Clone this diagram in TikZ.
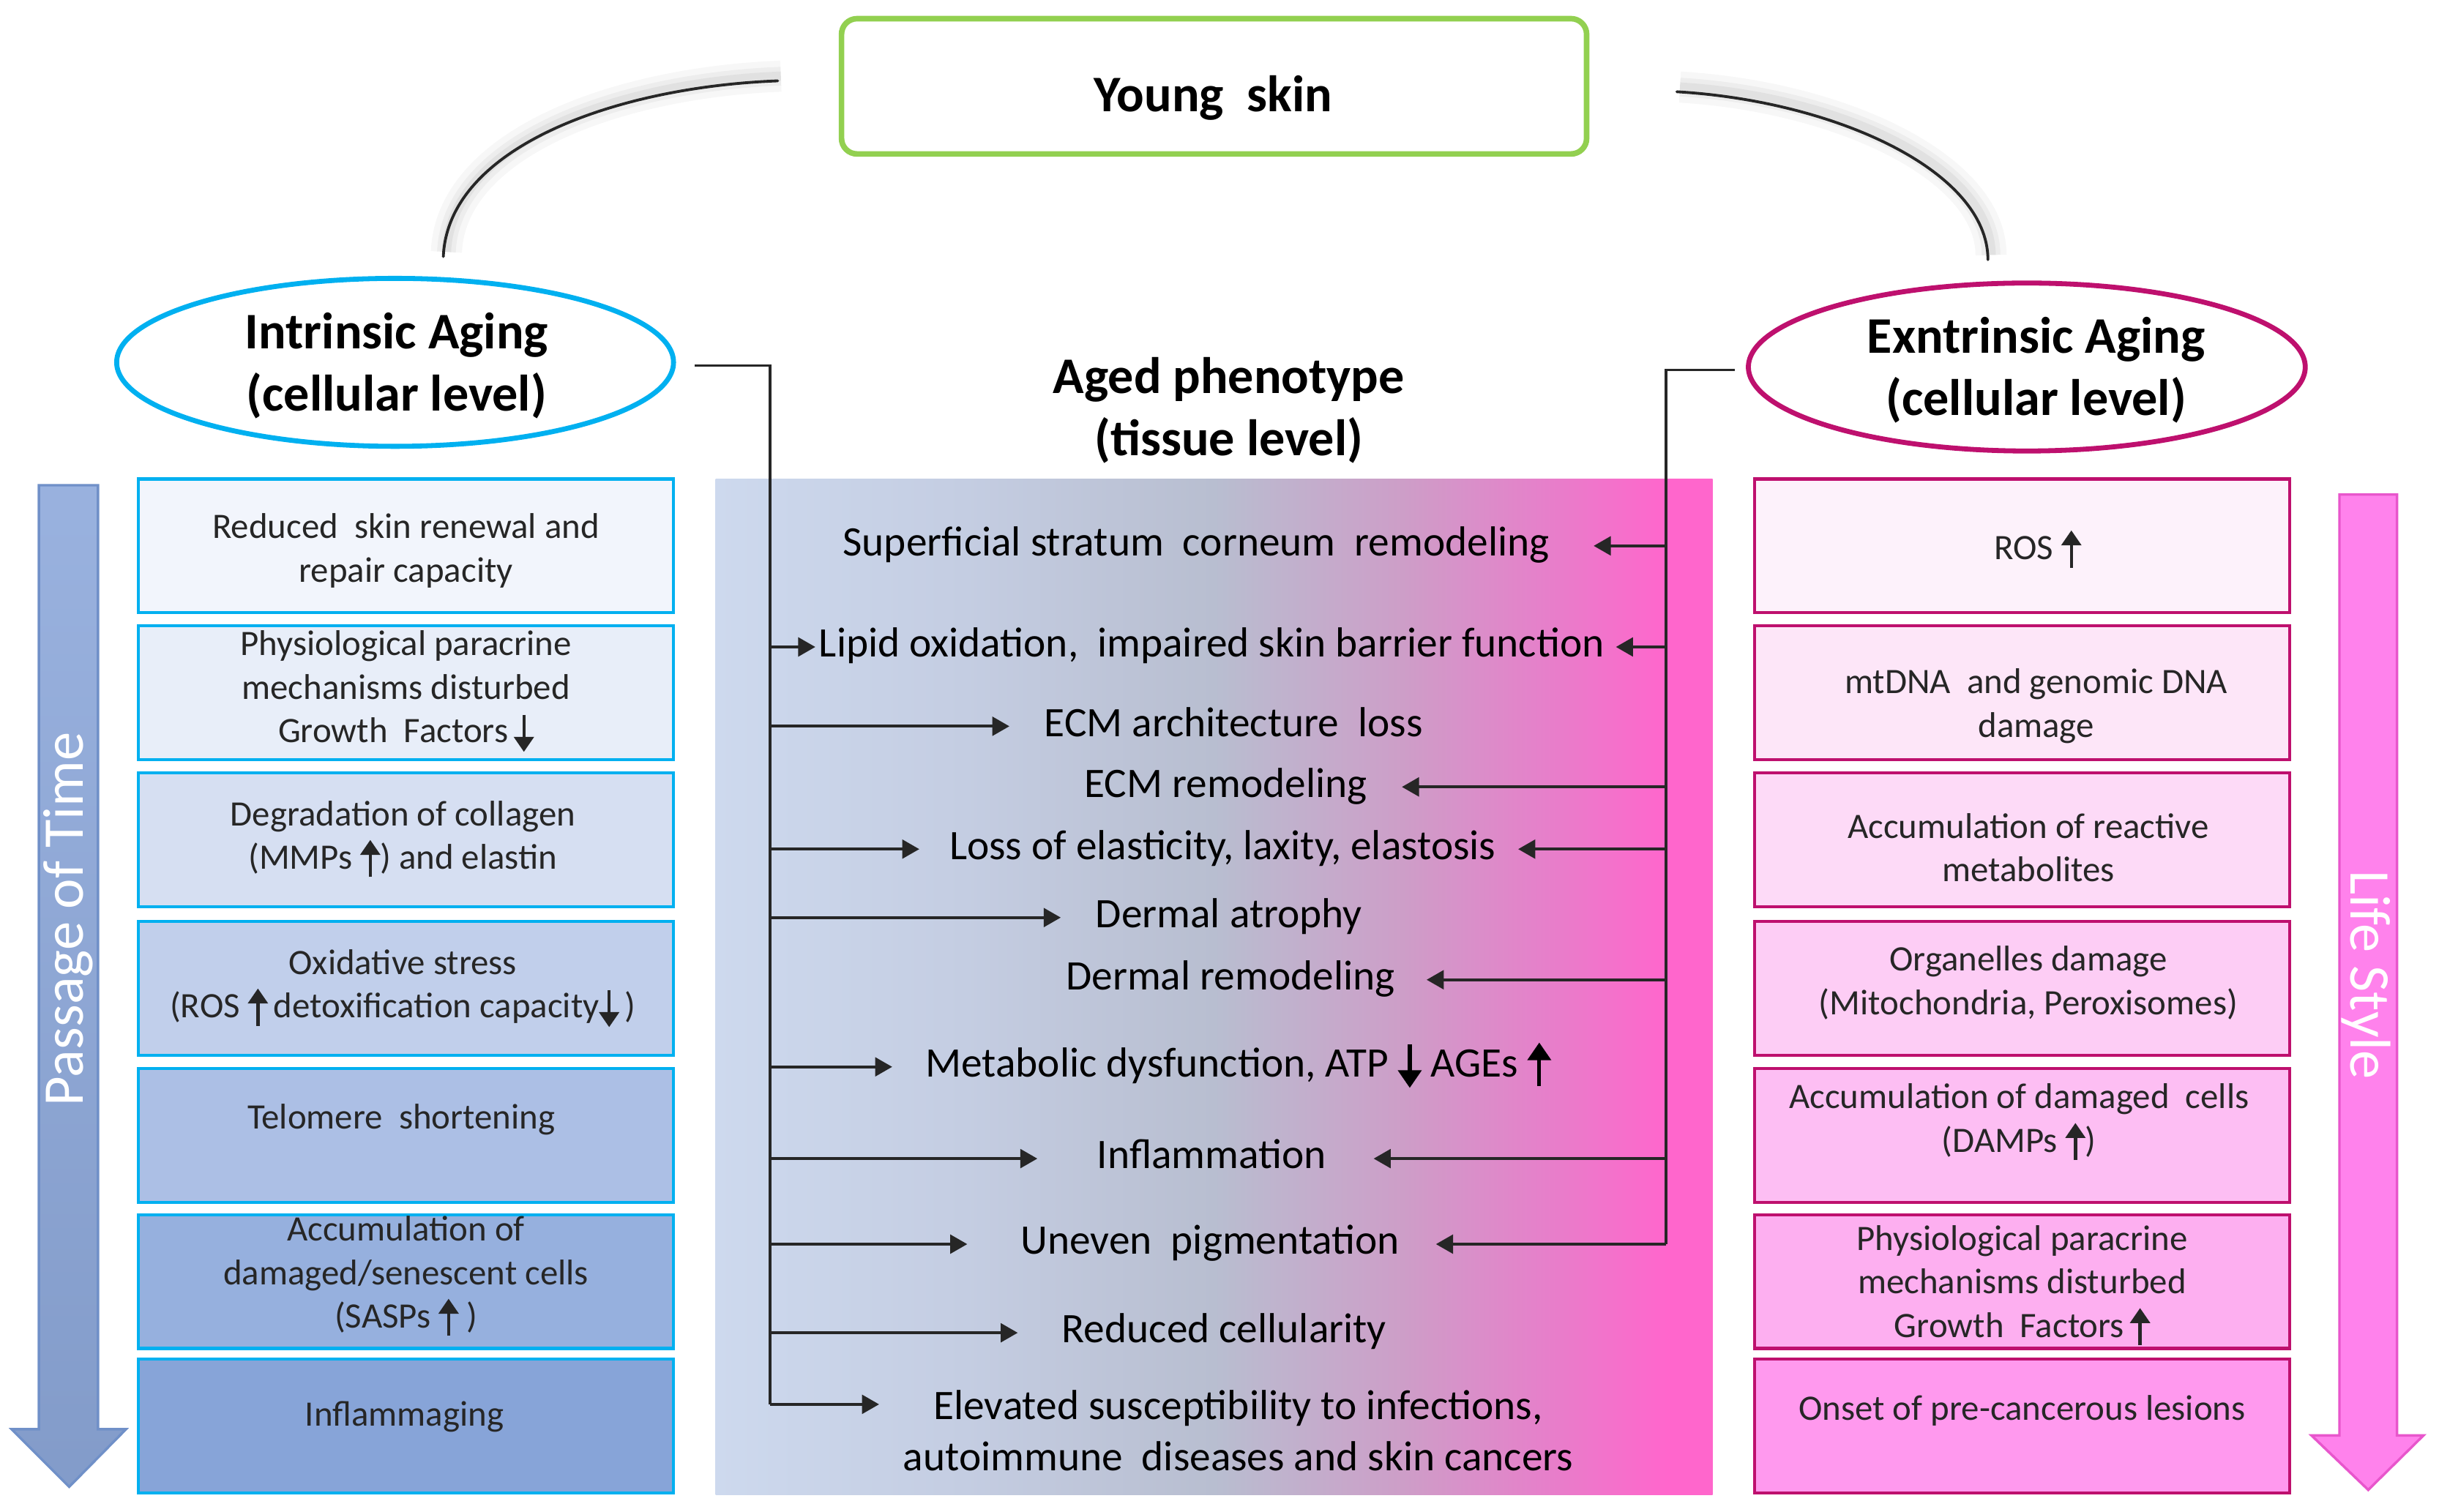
\documentclass[tikz,border=0pt]{standalone}
\usepackage{fontspec}
\setmainfont{Carlito}
\usetikzlibrary{arrows.meta,calc,shapes.geometric}

\definecolor{intblue}{RGB}{0,176,240}
\definecolor{extred}{RGB}{190,16,110}
\definecolor{younggreen}{RGB}{146,208,80}
\definecolor{lb1}{RGB}{242,245,252}
\definecolor{lb2}{RGB}{232,238,249}
\definecolor{lb3}{RGB}{214,223,242}
\definecolor{lb4}{RGB}{193,207,235}
\definecolor{lb5}{RGB}{172,191,229}
\definecolor{lb6}{RGB}{150,176,222}
\definecolor{lb7}{RGB}{135,164,216}
\definecolor{rb1}{RGB}{253,242,251}
\definecolor{rb2}{RGB}{253,230,248}
\definecolor{rb3}{RGB}{253,218,247}
\definecolor{rb4}{RGB}{253,205,245}
\definecolor{rb5}{RGB}{253,190,243}
\definecolor{rb6}{RGB}{253,175,240}
\definecolor{rb7}{RGB}{255,153,238}
\definecolor{timeblue}{RGB}{142,169,219}
\definecolor{timeedge}{RGB}{112,144,200}
\definecolor{lifepink}{RGB}{255,130,236}
\definecolor{lifeedge}{RGB}{232,86,204}

\pgfdeclarehorizontalshading{agedshade}{100bp}{rgb(0bp)=(0.804,0.851,0.933);
  rgb(25bp)=(0.804,0.851,0.933); rgb(37.5bp)=(0.769,0.804,0.886);
  rgb(50bp)=(0.722,0.745,0.816); rgb(59.4bp)=(0.804,0.620,0.784);
  rgb(67.2bp)=(0.910,0.490,0.792); rgb(72.7bp)=(1,0.4,0.8); rgb(100bp)=(1,0.4,0.8)}

\newcommand{\arup}{\tikz[baseline=0pt]\draw[line width=0.09em,-{Triangle[length=0.42em,width=0.55em]}] (0,-0.22em) -- (0,0.82em);}
\newcommand{\ardown}{\tikz[baseline=0pt]\draw[line width=0.09em,-{Triangle[length=0.42em,width=0.55em]}] (0,0.78em) -- (0,-0.26em);}

\tikzset{
  lbox/.style={draw=intblue,line width=1pt,minimum width=172pt,minimum height=43pt,inner sep=0pt},
  rbox/.style={draw=extred,line width=1pt,minimum width=172pt,minimum height=43pt,inner sep=0pt},
  boxtext/.style={font=\fontsize{11.5}{14}\selectfont,align=center,text=black!85,inner sep=0pt},
  phenbase/.style={font=\fontsize{13.5}{16.5}\selectfont,align=center,inner sep=0pt},
  phen/.style={phenbase,text height=9.2pt,text depth=2.7pt},
  title/.style={font=\fontsize{16.5}{20}\selectfont\bfseries,align=center,inner sep=0pt},
  youngbox/.style={draw=younggreen,line width=1.8pt,rounded corners=5pt,minimum width=239.5pt,minimum height=43.5pt},
  aging/.style={ellipse,line width=1.6pt,minimum width=179pt,minimum height=54pt,inner sep=0pt},
  link/.style={line width=1pt,black!85,-{Triangle[length=5.5pt,width=6pt]}},
  bracket/.style={line width=0.8pt,black!85},
  bigarrow/.style={line width=0.8pt,line join=miter},
  arrowtext/.style={font=\fontsize{18.5}{20}\selectfont,text=white,inner sep=0pt},
  bow/.style={line width=0.9pt,black!85,line cap=round,
    preaction={draw=black,opacity=0.03,line width=10pt,transform canvas={shift={(1pt,1.5pt)}}},
    preaction={draw=black,opacity=0.04,line width=6pt,transform canvas={shift={(1pt,1.5pt)}}},
    preaction={draw=black,opacity=0.05,line width=3pt,transform canvas={shift={(1pt,1.5pt)}}}},
}

\begin{document}
\begin{tikzpicture}[x=0.5pt,y=-0.5pt]
\useasboundingbox (0,0) rectangle (1568,972);

% top of the scheme
\node[youngbox] (young) at (780.5,55.5) {};
\node[title] (youngt) at (780,63) {Young\ \ skin};
\coordinate (bowl) at (500,52);
\coordinate (bowr) at (1078,59);
\draw[bow] (bowl) .. controls (395,56) and (288,95) .. (285,165);
\draw[bow] (bowr) .. controls (1180,65) and (1278,110) .. (1278,167);

\node[aging,draw=intblue] (intr) at (254,233) {};
\node[title] (intrt) at (255,235) {Intrinsic Aging\\(cellular level)};
\node[aging,draw=extred] (extr) at (1303,236) {};
\node[title] (extrt) at (1309,238) {Exntrinsic Aging\\(cellular level)};
\node[title] (aged) at (790,264) {Aged phenotype\\(tissue level)};

% side arrows
\draw[bigarrow,draw=timeedge,top color=timeblue!90!white,bottom color=timeblue!92!black]
  (25,312) -- (63,312) -- (63,919) -- (81,919) -- (44.5,956) -- (7.5,919) -- (25,919) -- cycle;
\node[arrowtext,rotate=90] (time) at (44,591) {Passage of Time};
\draw[bigarrow,draw=lifeedge,fill=lifepink]
  (1504,318) -- (1541,318) -- (1541,923) -- (1558,923) -- (1522.5,958) -- (1486,923) -- (1504,923) -- cycle;
\node[arrowtext,rotate=-90] (life) at (1521,627) {Life Style};

% intrinsic boxes
\node[lbox,fill=lb1] (l1) at (261,351) {};
\node[boxtext] (l1t) at (261,354) {Reduced\ \ skin renewal and\\repair capacity};
\node[lbox,fill=lb2] (l2) at (261,445.5) {};
\node[boxtext] (l2t) at (261,445) {Physiological paracrine\\mechanisms disturbed\\Growth\ \ Factors\,\ardown};
\node[lbox,fill=lb3] (l3) at (261,540) {};
\node[boxtext] (l3t) at (259,540) {Degradation of collagen\\(MMPs \arup) and elastin};
\node[lbox,fill=lb4] (l4) at (261,635.5) {};
\node[boxtext] (l4t) at (259,636) {Oxidative stress\\(ROS \arup\,detoxification capacity\ardown\,)};
\node[lbox,fill=lb5] (l5) at (261,730) {};
\node[boxtext] (l5t) at (258,720) {Telomere\ \ shortening};
\node[lbox,fill=lb6] (l6) at (261,824) {};
\node[boxtext] (l6t) at (261,821) {Accumulation of\\damaged/senescent cells\\(SASPs \arup\ )};
\node[lbox,fill=lb7] (l7) at (261,917) {};
\node[boxtext] (l7t) at (260,911) {Inflammaging};

% extrinsic boxes
\node[rbox,fill=rb1] (r1) at (1300,351) {};
\node[boxtext] (r1t) at (1310,353) {ROS \arup};
\node[rbox,fill=rb2] (r2) at (1300,445.5) {};
\node[boxtext] (r2t) at (1309,454) {mtDNA\ \ and genomic DNA\\damage};
\node[rbox,fill=rb3] (r3) at (1300,540) {};
\node[boxtext] (r3t) at (1304,545) {Accumulation of reactive\\metabolites};
\node[rbox,fill=rb4] (r4) at (1300,635.5) {};
\node[boxtext] (r4t) at (1304,632) {Organelles damage\\(Mitochondria, Peroxisomes)};
\node[rbox,fill=rb5] (r5) at (1300,730) {};
\node[boxtext] (r5t) at (1298,722) {Accumulation of damaged\ \ cells\\(DAMPs \arup)};
\node[rbox,fill=rb6] (r6) at (1300,824) {};
\node[boxtext] (r6t) at (1300,827) {Physiological paracrine\\mechanisms disturbed\\Growth\ \ Factors\,\arup};
\node[rbox,fill=rb7] (r7) at (1300,917) {};
\node[boxtext] (r7t) at (1300,907) {Onset of pre-cancerous lesions};

% aged phenotype
\shade[shading=agedshade] (460,308) rectangle (1101,961);
\node[phen] (sup) at (769,351) {Superficial stratum\ \ corneum\ \ remodeling};
\node[phen] (lip) at (779,416) {Lipid oxidation,\ \ impaired skin barrier function};
\node[phen] (ecma) at (793,467) {ECM architecture\ \ loss};
\node[phen] (ecmr) at (788,506) {ECM remodeling};
\node[phen] (loss) at (786,546) {Loss of elasticity, laxity, elastosis};
\node[phen] (datr) at (790,590) {Dermal atrophy};
\node[phen] (drem) at (791,630) {Dermal remodeling};
\node[phen] (meta) at (796,686) {Metabolic dysfunction, ATP \ardown\ AGEs \arup};
\node[phen] (infl) at (779,745) {Inflammation};
\node[phen] (unev) at (778,800) {Uneven\ \ pigmentation};
\node[phen] (redc) at (787,857) {Reduced cellularity};
\node[phenbase] (elev) at (796,920) {Elevated susceptibility to infections,\\autoimmune\ \ diseases and skin cancers};

% intrinsic links
\coordinate (lbr) at (495,903);
\draw[bracket] ($(intr.east)+(12,2)$) -| (lbr);
\draw[link] (lbr |- lip.west) -- ($(lip.west)+(-2,0)$);
\draw[link] (lbr |- ecma.west) -- ($(ecma.west)+(-22,0)$);
\draw[link] (lbr |- loss.west) -- ($(loss.west)+(-19,0)$);
\draw[link] (lbr |- datr.west) -- ($(datr.west)+(-22,0)$);
\draw[link] (lbr |- meta.west) -- ($(meta.west)+(-21,0)$);
\draw[link] (lbr |- infl.west) -- ($(infl.west)+(-38,0)$);
\draw[link] (lbr |- unev.west) -- ($(unev.west)+(-34,0)$);
\draw[link] (lbr |- redc.west) -- ($(redc.west)+(-28,0)$);
\draw[link] (lbr) -- ($(lbr -| elev.west)+(-15,0)$);

% extrinsic links
\coordinate (rbr) at (1071,800);
\draw[bracket] ($(extr.west)+(-7,2)$) -| (rbr);
\draw[link] (rbr |- sup.east) -- ($(sup.east)+(28,0)$);
\draw[link] (rbr |- lip.east) -- ($(lip.east)+(7,0)$);
\draw[link] (rbr |- ecmr.east) -- ($(ecmr.east)+(22,0)$);
\draw[link] (rbr |- loss.east) -- ($(loss.east)+(14,0)$);
\draw[link] (rbr |- drem.east) -- ($(drem.east)+(20,0)$);
\draw[link] (rbr |- infl.east) -- ($(infl.east)+(30,0)$);
\draw[link] (rbr) -- ($(rbr -| unev.east)+(23,0)$);
\end{tikzpicture}
\end{document}
